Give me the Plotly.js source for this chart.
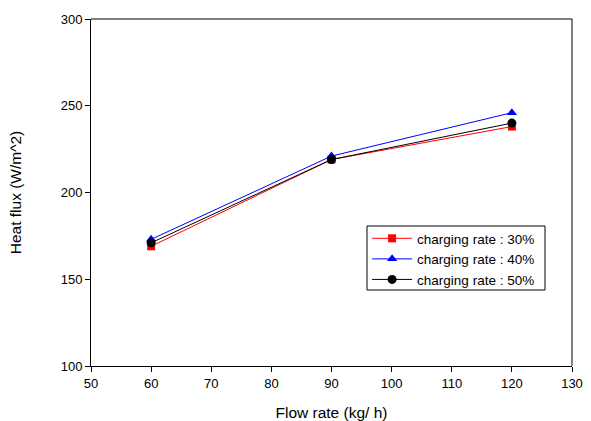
<!DOCTYPE html>
<html>
<head>
<meta charset="utf-8">
<script src="https://cdn.plot.ly/plotly-3.0.1.min.js"></script>
<style>html,body{margin:0;padding:0;background:#fff;}#chart{width:591px;height:421px;}</style>
</head>
<body>
<div id="chart"></div>
<script>
const flowRate = [60, 90, 120];
const rate30 = [169, 219, 238];
const rate40 = [173, 221, 246];
const rate50 = [171, 219, 240];
const seriesNames = ["charging rate : 30%", "charging rate : 40%", "charging rate : 50%"];

const traces = [
  {x: flowRate, y: rate30, name: seriesNames[0], mode: 'lines+markers', type: 'scatter',
   line: {color: '#ff0000', width: 1}, marker: {symbol: 'square', size: 8, color: '#ff0000'}},
  {x: flowRate, y: rate40, name: seriesNames[1], mode: 'lines+markers', type: 'scatter',
   line: {color: '#0000ff', width: 1}, marker: {symbol: 'triangle-up', size: 9, color: '#0000ff'}},
  {x: flowRate, y: rate50, name: seriesNames[2], mode: 'lines+markers', type: 'scatter',
   line: {color: '#000000', width: 1}, marker: {symbol: 'circle', size: 9, color: '#000000'}}
];

const layout = {
  width: 591, height: 421,
  margin: {l: 91, r: 19, t: 19, b: 55},
  paper_bgcolor: '#fff', plot_bgcolor: '#fff',
  font: {family: 'Liberation Sans, Arial, sans-serif', size: 13, color: '#000'},
  showlegend: true,
  legend: {x: 0.574, y: 0.412, xanchor: 'left', yanchor: 'top',
    borderwidth: 0, bgcolor: 'rgba(0,0,0,0)',
    font: {size: 13.5}, tracegroupgap: 0, itemwidth: 40},
  xaxis: {range: [50, 130], dtick: 10, tick0: 50, showgrid: false, zeroline: false,
    showline: true, linecolor: '#000', linewidth: 1, ticks: 'outside', ticklen: 5, tickcolor: '#000',
    title: {text: 'Flow rate (kg/ h)', font: {size: 15.5}, standoff: 22}},
  yaxis: {range: [100, 300], dtick: 50, tick0: 100, showgrid: false, zeroline: false,
    showline: true, linecolor: '#000', linewidth: 1, ticks: 'outside', ticklen: 5, tickcolor: '#000',
    title: {text: 'Heat flux (W/m^2)', font: {size: 15.5}, standoff: 35}},
  shapes: [
    {type: 'line', xref: 'paper', yref: 'paper', x0: 0, x1: 1, y0: 1, y1: 1, line: {color: '#808080', width: 2}},
    {type: 'line', xref: 'paper', yref: 'paper', x0: 1, x1: 1, y0: 0, y1: 1, line: {color: '#000', width: 1}},
    {type: 'rect', xref: 'paper', yref: 'paper', x0: 0.5738, x1: 0.9439, y0: 0.219, y1: 0.4035,
     line: {color: '#000', width: 1}, fillcolor: '#fff'}
  ]
};

Plotly.newPlot('chart', traces, layout, {displayModeBar: false, staticPlot: true});
</script>
</body>
</html>
